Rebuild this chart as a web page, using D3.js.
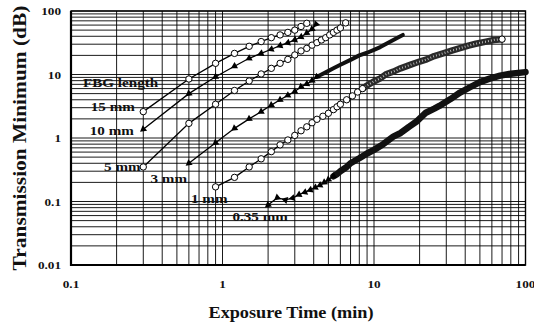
<!DOCTYPE html>
<html>
<head>
<meta charset="utf-8">
<script src="https://cdn.jsdelivr.net/npm/d3@7/dist/d3.min.js"></script>
<style>
  body { margin: 0; background: #fff; }
  text { font-family: "Liberation Serif", "Times New Roman", serif; font-weight: bold; fill: #111; }
</style>
</head>
<body>
<svg id="chart" width="534" height="326"></svg>
<script>
// ---- data ----
var xTicks = [0.1, 1, 10, 100],
    yTicks = [0.01, 0.1, 1, 10, 100],
    xTickLabels = ["0.1", "1", "10", "100"],
    yTickLabels = ["0.01", "0.1", "1", "10", "100"];

var time15 = [0.3, 0.6, 0.9, 1.2, 1.5, 1.8, 2.1, 2.4, 2.7, 3.0, 3.3, 3.6],
    db15   = [2.6, 8.5, 15, 21.5, 27.8, 33, 38, 42, 46, 50, 57, 64];

var time10 = [0.3, 0.6, 0.9, 1.2, 1.5, 1.8, 2.1, 2.4, 2.7, 3.0, 3.3, 3.6, 3.9, 4.15],
    db10   = [1.37, 5.0, 9.2, 13.5, 18, 21.5, 25, 28.5, 31.5, 35, 39, 45, 52, 62];

var time5 = [0.3, 0.6, 0.9, 1.2, 1.5, 1.8, 2.1, 2.4, 2.7, 3.0, 3.3, 3.6, 3.9, 4.2, 4.5, 4.8, 5.1, 5.4, 5.7, 6.0, 6.5],
    db5   = [0.35, 1.7, 3.4, 5.6, 7.9, 10.2, 12.5, 15, 17.3, 20.3, 23.5, 25.8, 29, 31.7, 35, 38, 42, 46, 50, 54, 65];

var time3 = [0.6, 0.9, 1.2, 1.5, 1.8, 2.1, 2.4, 2.7, 3.0, 3.3, 3.6, 3.9, 4.2, 4.5, 4.8, 5.4, 6.0, 7.0, 8.0, 9.0, 10, 11, 12.5, 14, 15.5],
    db3   = [0.40, 0.84, 1.42, 2.0, 2.6, 3.3, 4.0, 4.7, 5.4, 6.4, 7.1, 8.0, 9.2, 10, 10.8, 12.5, 14.2, 17, 20, 22, 24.5, 27, 32, 37, 42];

var time1 = [0.9, 1.2, 1.5, 1.8, 2.1, 2.4, 2.7, 3.0, 3.3, 3.6, 3.9, 4.2, 4.6, 5.0, 5.4, 5.7, 6.0, 6.6, 7.2, 7.8, 8.4, 9.0, 9.9,
             11, 12.1, 13.4, 15, 17.5, 20, 22.3, 25, 28.6, 33, 37, 42, 47, 55, 62, 70],
    db1   = [0.17, 0.24, 0.35, 0.47, 0.61, 0.78, 0.93, 1.1, 1.3, 1.5, 1.74, 1.97, 2.2, 2.45, 2.8, 3.1, 3.4, 4.0, 4.6, 5.3, 6.0, 6.7, 7.7,
             8.7, 10.2, 11.1, 12.5, 14.3, 16, 17.3, 19.5, 21.5, 24, 26, 28.5, 30.5, 33, 35, 36];

var time035 = [2.0, 2.3, 2.6, 2.9, 3.2, 3.5, 3.8, 4.1, 4.4, 4.7, 5.0, 5.4, 5.7, 6.0, 6.6, 7.0, 8.0, 9.0, 10, 11.5, 13.4, 15, 17, 19,
               22, 25, 27, 32, 37, 43, 50, 58, 68, 80, 100],
    db035   = [0.088, 0.115, 0.106, 0.113, 0.128, 0.14, 0.152, 0.166, 0.18, 0.2, 0.222, 0.25, 0.27, 0.3, 0.35, 0.4, 0.48, 0.57, 0.65, 0.8, 1.05, 1.2, 1.5, 1.8,
               2.5, 2.9, 3.2, 4.1, 5.2, 6.3, 7.6, 8.6, 9.6, 10.3, 10.9];

// label anchors (right end of text, in data units)
var labelText = ["FBG length", "15 mm", "10 mm", "5 mm", "3 mm", "1 mm", "0.35 mm"],
    labelTime = [0.12, 0.264, 0.26, 0.288, 0.583, 1.08, 2.7],
    labelDb   = [7.6, 3.19, 1.30, 0.353, 0.234, 0.112, 0.059];

var series = [
  {name: "15 mm",   t: time15,  v: db15,  marker: "circle"},
  {name: "10 mm",   t: time10,  v: db10,  marker: "triangle"},
  {name: "5 mm",    t: time5,   v: db5,   marker: "circle"},
  {name: "3 mm",    t: time3,   v: db3,   marker: "triangle", bandFrom: 4.5, bandWidth: 4},
  {name: "1 mm",    t: time1,   v: db1,   marker: "circle",   bandFrom: 9.0, bandWidth: 6.5, endMarker: true},
  {name: "0.35 mm", t: time035, v: db035, marker: "triangle", bandFrom: 5.7, bandWidth: 6.5}
];

// ---- chart ----
var svg = d3.select("#chart"),
    x = d3.scaleLog().domain([0.1, 100]).range([71, 525.5]),
    y = d3.scaleLog().domain([0.01, 100]).range([265, 11]);

function stretchText(g, px, py, str, sx, rot) {
  return g.append("text")
      .attr("transform", "translate(" + px + "," + py + ")" + (rot ? " rotate(" + rot + ")" : "") + " scale(" + sx + ",1)")
      .text(str);
}

var grid = svg.append("g");
grid.selectAll("line.v")
    .data(x.ticks())
    .enter().append("line")
    .attr("x1", d => x(d)).attr("x2", d => x(d))
    .attr("y1", y.range()[1]).attr("y2", y.range()[0])
    .attr("stroke", "#000").attr("stroke-width", 0.9);
grid.selectAll("line.h")
    .data(y.ticks())
    .enter().append("line")
    .attr("y1", d => y(d)).attr("y2", d => y(d))
    .attr("x1", x.range()[0]).attr("x2", x.range()[1])
    .attr("stroke", "#000").attr("stroke-width", 0.9);

// frame
svg.append("rect")
    .attr("x", x.range()[0]).attr("y", y.range()[1])
    .attr("width", x.range()[1] - x.range()[0])
    .attr("height", y.range()[0] - y.range()[1])
    .attr("fill", "none").attr("stroke", "#000").attr("stroke-width", 1.4);
svg.append("path")
    .attr("d", "M" + x.range()[0] + "," + y.range()[1] + "V" + y.range()[0] + "H" + x.range()[1])
    .attr("fill", "none").attr("stroke", "#000").attr("stroke-width", 2.2);

// tick labels
var ticksG = svg.append("g").style("font-size", "11px");
xTicks.forEach(function(t, i) {
  stretchText(ticksG, x(t), 288, xTickLabels[i], 1.2).attr("text-anchor", "middle");
});
yTicks.forEach(function(t, i) {
  stretchText(ticksG, 61, y(t) + 4, yTickLabels[i], 1.2).attr("text-anchor", "end");
});

// axis titles
stretchText(svg, 291, 318, "Exposure Time (min)", 1.14, 0)
    .attr("text-anchor", "middle").style("font-size", "16px");
stretchText(svg, 26, 138, "Transmission Minimum (dB)", 1.19, -90)
    .attr("text-anchor", "middle").style("font-size", "18px");

var line = d3.line().x(d => x(d[0])).y(d => y(d[1]));
var triangle = d3.symbol().type(d3.symbolTriangle).size(22);

series.forEach(function(s) {
  var pts = s.t.map((t, i) => [t, s.v[i]]);
  var g = svg.append("g");

  g.append("path")
      .attr("d", line(pts))
      .attr("fill", "none").attr("stroke", "#000").attr("stroke-width", 1.3);

  var marked = pts;
  if (s.bandFrom) {
    var k = pts.findIndex(p => p[0] >= s.bandFrom);
    var band = pts.slice(Math.max(0, k - 1));
    marked = pts.slice(0, k);
    g.append("path")
        .attr("d", line(band))
        .attr("fill", "none")
        .attr("stroke", s.marker === "circle" ? "#2a2a2a" : "#111")
        .attr("stroke-width", s.bandWidth)
        .attr("stroke-linecap", "round").attr("stroke-linejoin", "round");
    if (s.marker === "circle") {
      g.append("path")
          .attr("d", line(band))
          .attr("fill", "none").attr("stroke", "#fff")
          .attr("stroke-width", 2.2).attr("stroke-dasharray", "0.8,2.2")
          .attr("opacity", 0.75);
    }
    if (s.endMarker) marked = marked.concat([pts[pts.length - 1]]);
  }

  if (s.marker === "circle") {
    g.selectAll("circle")
        .data(marked)
        .enter().append("circle")
        .attr("cx", d => x(d[0])).attr("cy", d => y(d[1]))
        .attr("r", 3.2)
        .attr("fill", "#fff").attr("stroke", "#000").attr("stroke-width", 1);
  } else {
    g.selectAll("path.tri")
        .data(marked)
        .enter().append("path")
        .attr("d", triangle)
        .attr("transform", function(d, i) {
          var a = i > 0
            ? Math.atan2(y(pts[i - 1][1]) - y(d[1]), x(pts[i - 1][0]) - x(d[0]))
            : Math.atan2(y(d[1]) - y(pts[1][1]), x(d[0]) - x(pts[1][0]));
          return "translate(" + x(d[0]) + "," + y(d[1]) + ") rotate(" + (a * 180 / Math.PI + 90) + ")";
        })
        .attr("fill", "#000");
  }
});

// series labels
var labG = svg.append("g").style("font-size", "13.5px");
labelText.forEach(function(str, i) {
  var t = stretchText(labG, x(labelTime[i]), y(labelDb[i]) + 4.5, str, 1.12);
  t.attr("text-anchor", i === 0 ? "start" : "end");
});
</script>
</body>
</html>
